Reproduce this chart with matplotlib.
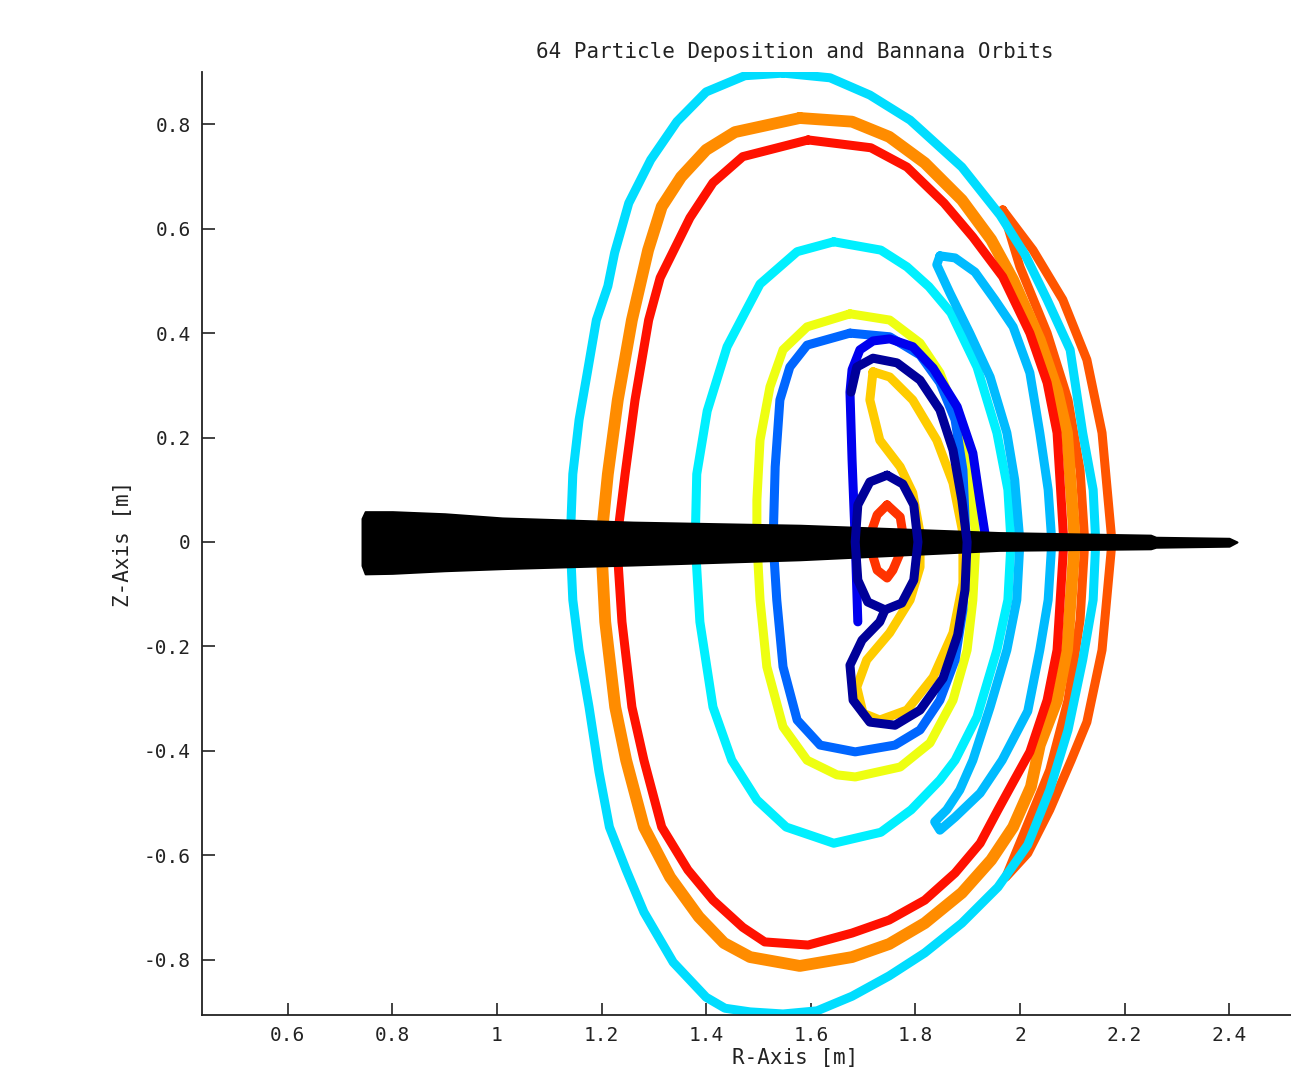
import numpy as np
import matplotlib.pyplot as plt

# orbit traces (R [m], Z [m])
outer_cyan = [
    (1.547, 0.898), (1.637, 0.889), (1.713, 0.856), (1.790, 0.808), (1.889, 0.718),
    (1.962, 0.626), (2.010, 0.550), (2.052, 0.464), (2.096, 0.368), (2.120, 0.209),
    (2.140, 0.100), (2.145, 0.000), (2.140, -0.111), (2.120, -0.226), (2.092, -0.360),
    (2.057, -0.475), (2.015, -0.580), (1.958, -0.661), (1.889, -0.730), (1.818, -0.787),
    (1.750, -0.831), (1.679, -0.870), (1.612, -0.898), (1.547, -0.904), (1.484, -0.900),
    (1.436, -0.893), (1.400, -0.872), (1.337, -0.805), (1.281, -0.709), (1.247, -0.628),
    (1.215, -0.546), (1.195, -0.440), (1.176, -0.316), (1.157, -0.207), (1.145, -0.111),
    (1.140, 0.000), (1.145, 0.130), (1.157, 0.234), (1.172, 0.320), (1.190, 0.425),
    (1.212, 0.490), (1.225, 0.554), (1.252, 0.649), (1.294, 0.732), (1.344, 0.805),
    (1.400, 0.862), (1.474, 0.893), (1.547, 0.898),
]
red_orbit = [
    (1.595, 0.770), (1.715, 0.755), (1.784, 0.718), (1.855, 0.649), (1.910, 0.584),
    (1.967, 0.508), (2.019, 0.400), (2.052, 0.305), (2.071, 0.209), (2.084, 0.000),
    (2.071, -0.207), (2.052, -0.303), (2.019, -0.402), (1.987, -0.460), (1.958, -0.513),
    (1.924, -0.577), (1.876, -0.634), (1.818, -0.686), (1.750, -0.724), (1.679, -0.749),
    (1.595, -0.772), (1.512, -0.766), (1.470, -0.738), (1.413, -0.686), (1.365, -0.628),
    (1.315, -0.546), (1.281, -0.418), (1.258, -0.316), (1.239, -0.153), (1.229, 0.000),
    (1.245, 0.130), (1.264, 0.272), (1.290, 0.425), (1.312, 0.506), (1.369, 0.621),
    (1.413, 0.688), (1.470, 0.738), (1.595, 0.770),
]
orange_orbit = [
    (1.579, 0.812), (1.679, 0.805), (1.750, 0.776), (1.818, 0.726), (1.889, 0.655),
    (1.945, 0.579), (1.987, 0.502), (2.038, 0.387), (2.071, 0.291), (2.090, 0.209),
    (2.105, 0.000), (2.090, -0.207), (2.071, -0.303), (2.038, -0.389), (2.021, -0.469),
    (1.987, -0.546), (1.945, -0.609), (1.889, -0.672), (1.818, -0.730), (1.750, -0.770),
    (1.679, -0.795), (1.579, -0.812), (1.484, -0.795), (1.434, -0.768), (1.386, -0.718),
    (1.331, -0.642), (1.281, -0.546), (1.247, -0.418), (1.226, -0.316), (1.207, -0.153),
    (1.199, 0.000), (1.212, 0.130), (1.231, 0.272), (1.258, 0.425), (1.289, 0.559),
    (1.315, 0.642), (1.352, 0.699), (1.400, 0.751), (1.455, 0.785), (1.579, 0.812),
]
outer_banana = [
    (1.967, 0.636), (2.025, 0.559), (2.082, 0.464), (2.128, 0.349), (2.157, 0.209),
    (2.176, 0.000), (2.157, -0.207), (2.128, -0.345), (2.098, -0.418), (2.057, -0.513),
    (2.015, -0.596), (1.973, -0.642), (2.010, -0.552), (2.057, -0.437), (2.092, -0.303),
    (2.115, -0.149), (2.124, 0.000), (2.115, 0.138), (2.092, 0.272), (2.052, 0.400),
    (2.000, 0.527), (1.967, 0.636),
]
inner_cyan = [
    (1.644, 0.575), (1.734, 0.559), (1.784, 0.527), (1.826, 0.489), (1.868, 0.439),
    (1.918, 0.335), (1.956, 0.209), (1.977, 0.100), (1.983, 0.000), (1.977, -0.111),
    (1.956, -0.207), (1.918, -0.335), (1.876, -0.418), (1.847, -0.456), (1.792, -0.513),
    (1.734, -0.556), (1.644, -0.577), (1.553, -0.546), (1.497, -0.494), (1.449, -0.418),
    (1.413, -0.316), (1.388, -0.153), (1.379, 0.000), (1.382, 0.130), (1.402, 0.251),
    (1.440, 0.374), (1.474, 0.439), (1.503, 0.494), (1.574, 0.556), (1.644, 0.575),
]
sky_banana = [
    (1.847, 0.548), (1.876, 0.544), (1.914, 0.517), (1.952, 0.464), (1.987, 0.412),
    (2.019, 0.324), (2.038, 0.209), (2.054, 0.100), (2.061, 0.000), (2.054, -0.111),
    (2.038, -0.207), (2.015, -0.324), (1.966, -0.418), (1.924, -0.481), (1.876, -0.527),
    (1.847, -0.552), (1.837, -0.536), (1.860, -0.513), (1.885, -0.475), (1.910, -0.418),
    (1.943, -0.316), (1.975, -0.207), (1.994, -0.111), (2.000, 0.000), (1.990, 0.119),
    (1.975, 0.209), (1.943, 0.316), (1.904, 0.400), (1.866, 0.477), (1.841, 0.531),
    (1.847, 0.548),
]
yellow_orbit = [
    (1.675, 0.437), (1.751, 0.425), (1.809, 0.381), (1.847, 0.324), (1.880, 0.239),
    (1.904, 0.144), (1.916, 0.000), (1.910, -0.111), (1.899, -0.207), (1.872, -0.303),
    (1.828, -0.385), (1.771, -0.431), (1.685, -0.450), (1.650, -0.446), (1.593, -0.418),
    (1.547, -0.354), (1.516, -0.239), (1.503, -0.111), (1.497, 0.000), (1.497, 0.080),
    (1.503, 0.195), (1.522, 0.297), (1.547, 0.368), (1.593, 0.412), (1.675, 0.437),
]
blue_orbit = [
    (1.675, 0.400), (1.751, 0.393), (1.809, 0.358), (1.847, 0.305), (1.876, 0.234),
    (1.891, 0.138), (1.897, 0.000), (1.891, -0.130), (1.876, -0.226), (1.847, -0.303),
    (1.809, -0.360), (1.761, -0.389), (1.685, -0.402), (1.618, -0.389), (1.574, -0.341),
    (1.547, -0.239), (1.535, -0.111), (1.528, 0.000), (1.532, 0.144), (1.541, 0.272),
    (1.560, 0.335), (1.593, 0.377), (1.675, 0.400),
]
gold_banana = [
    (1.719, 0.326), (1.713, 0.272), (1.732, 0.195), (1.771, 0.144), (1.795, 0.094),
    (1.809, 0.017), (1.809, -0.048), (1.790, -0.111), (1.751, -0.174), (1.707, -0.226),
    (1.688, -0.278), (1.700, -0.328), (1.732, -0.341), (1.784, -0.322), (1.834, -0.259),
    (1.872, -0.174), (1.891, -0.079), (1.891, 0.017), (1.872, 0.113), (1.841, 0.195),
    (1.795, 0.272), (1.751, 0.316), (1.719, 0.326),
]
bright_blue_path = [
    (1.690, -0.153), (1.685, 0.004), (1.679, 0.157), (1.675, 0.287), (1.679, 0.330),
    (1.694, 0.368), (1.719, 0.385), (1.751, 0.389), (1.795, 0.374), (1.834, 0.333),
    (1.880, 0.259), (1.910, 0.170), (1.924, 0.075), (1.933, 0.017),
]
small_red = [
    (1.746, 0.071), (1.771, 0.048), (1.776, 0.017), (1.771, -0.021), (1.757, -0.054),
    (1.746, -0.069), (1.727, -0.054), (1.717, -0.021), (1.717, 0.023), (1.727, 0.052),
    (1.746, 0.071),
]
navy_path = [
    (1.677, 0.287), (1.688, 0.335), (1.719, 0.352), (1.765, 0.343), (1.809, 0.310),
    (1.847, 0.253), (1.872, 0.176), (1.889, 0.080), (1.899, 0.000), (1.895, -0.092),
    (1.881, -0.178), (1.853, -0.261), (1.809, -0.322), (1.761, -0.351), (1.713, -0.345),
    (1.681, -0.303), (1.675, -0.236), (1.698, -0.188), (1.732, -0.153), (1.742, -0.130),
]
navy_loop = [
    (1.746, 0.128), (1.776, 0.111), (1.797, 0.071), (1.805, 0.000), (1.797, -0.073),
    (1.774, -0.117), (1.742, -0.130), (1.709, -0.115), (1.690, -0.073), (1.685, 0.000),
    (1.690, 0.071), (1.713, 0.115), (1.746, 0.128),
]

# deposition band of the 64 particles
beam_r = [0.742, 0.748, 0.80, 0.90, 1.01, 1.26, 1.58, 1.96, 2.25, 2.26, 2.40, 2.415]
beam_top = [0.045, 0.058, 0.058, 0.054, 0.046, 0.038, 0.032, 0.018, 0.013, 0.009, 0.007, 0.0]
beam_bot = [-0.045, -0.061, -0.060, -0.055, -0.051, -0.044, -0.034, -0.016, -0.013, -0.010, -0.008, 0.0]

xticks = [0.6, 0.8, 1.0, 1.2, 1.4, 1.6, 1.8, 2.0, 2.2, 2.4]
xtick_labels = ["0.6", "0.8", "1", "1.2", "1.4", "1.6", "1.8", "2", "2.2", "2.4"]
yticks = [-0.8, -0.6, -0.4, -0.2, 0.0, 0.2, 0.4, 0.6, 0.8]
ytick_labels = ["-0.8", "-0.6", "-0.4", "-0.2", "0", "0.2", "0.4", "0.6", "0.8"]


def draw():
    plt.rcParams["font.family"] = ["DejaVu Sans Mono"]
    fig = plt.figure(figsize=(12.91, 10.82), dpi=100)
    # axes run past the right edge, like the cropped original
    ax = fig.add_axes([0.1565, 0.0619, 0.9187, 0.8715])

    lw = 6.5
    order = [
        (outer_banana, "#ff5500", lw),
        (orange_orbit, "#ff8c00", 8.5),
        (red_orbit, "#ff1100", lw),
        (outer_cyan, "#00ddff", lw),
        (inner_cyan, "#00f0ff", lw),
        (sky_banana, "#00bbff", lw),
        (yellow_orbit, "#eeff11", lw),
        (blue_orbit, "#0066ff", lw),
        (gold_banana, "#ffcc00", lw),
        (bright_blue_path, "#0000ee", lw),
        (small_red, "#ff3300", lw),
    ]
    for pts, col, w in order:
        pts = np.array(pts)
        ax.plot(pts[:, 0], pts[:, 1], color=col, linewidth=w,
                solid_capstyle="round", solid_joinstyle="round")

    ax.fill_between(beam_r, beam_bot, beam_top, color="black", linewidth=1.5,
                    edgecolor="black", zorder=3)

    for pts in (navy_path, navy_loop):
        pts = np.array(pts)
        ax.plot(pts[:, 0], pts[:, 1], color="#000099", linewidth=lw,
                solid_capstyle="round", solid_joinstyle="round", zorder=4)

    ax.set_xlim(0.436, 2.704)
    ax.set_ylim(-0.906, 0.900)
    ax.set_xticks(xticks)
    ax.set_xticklabels(xtick_labels)
    ax.set_yticks(yticks)
    ax.set_yticklabels(ytick_labels)
    ax.tick_params(axis="both", direction="in", length=9, width=1.2,
                   labelsize=14, pad=8, colors="#222222")
    ax.spines["top"].set_visible(False)
    ax.spines["right"].set_visible(False)
    for s in ("left", "bottom"):
        ax.spines[s].set_linewidth(1.3)
        ax.spines[s].set_color("#222222")

    ax.set_xlabel("R-Axis [m]", fontsize=15, labelpad=2, color="#222222")
    ax.set_ylabel("Z-Axis [m]", fontsize=15, labelpad=8, color="#222222")
    ax.set_title("64 Particle Deposition and Bannana Orbits", fontsize=15,
                 pad=10, color="#222222")

    fig.savefig("out.png", dpi=100)
    plt.close("all")


if __name__ == "__main__":
    draw()
